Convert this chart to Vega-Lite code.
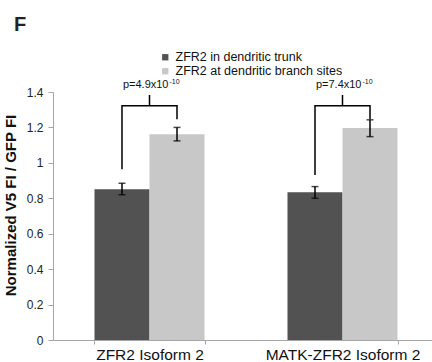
{
  "$schema": "https://vega.github.io/schema/vega-lite/v6.json",
  "autosize": "none",
  "width": 379,
  "height": 248,
  "padding": {"left": 53, "top": 92, "right": 0, "bottom": 22},
  "background": "white",
  "config": {
    "font": "Liberation Sans",
    "view": {"stroke": null},
    "axis": {"grid": false, "domainColor": "#a6a6a6", "tickColor": "#a6a6a6", "labelColor": "#222222", "labelFont": "Liberation Sans"},
    "axisY": {"tickCount": 8, "labelOverlap": false, "labelFontSize": 12, "tickSize": 5, "labelPadding": 5, "format": "~g"}
  },
  "title": {"text": "F", "anchor": "start", "frame": "group", "fontSize": 20, "fontWeight": "bold", "color": "#222222", "dx": -39, "offset": 16},
  "datasets": {
    "bars": [
      {"grp": "ZFR2 Isoform 2", "series": "ZFR2 in dendritic trunk", "v": 0.851, "lo": 0.82, "hi": 0.885},
      {"grp": "ZFR2 Isoform 2", "series": "ZFR2 at dendritic branch sites", "v": 1.161, "lo": 1.124, "hi": 1.2},
      {"grp": "MATK-ZFR2 Isoform 2", "series": "ZFR2 in dendritic trunk", "v": 0.834, "lo": 0.8, "hi": 0.866},
      {"grp": "MATK-ZFR2 Isoform 2", "series": "ZFR2 at dendritic branch sites", "v": 1.197, "lo": 1.148, "hi": 1.243}
    ],
    "bracket": [
      {"grp": "ZFR2 Isoform 2", "series": "ZFR2 in dendritic trunk", "y": 0.964, "ord": 1},
      {"grp": "ZFR2 Isoform 2", "series": "ZFR2 in dendritic trunk", "y": 1.323, "ord": 2},
      {"grp": "ZFR2 Isoform 2", "series": "ZFR2 at dendritic branch sites", "y": 1.323, "ord": 3},
      {"grp": "ZFR2 Isoform 2", "series": "ZFR2 at dendritic branch sites", "y": 1.246, "ord": 4},
      {"grp": "MATK-ZFR2 Isoform 2", "series": "ZFR2 in dendritic trunk", "y": 0.932, "ord": 1},
      {"grp": "MATK-ZFR2 Isoform 2", "series": "ZFR2 in dendritic trunk", "y": 1.323, "ord": 2},
      {"grp": "MATK-ZFR2 Isoform 2", "series": "ZFR2 at dendritic branch sites", "y": 1.323, "ord": 3},
      {"grp": "MATK-ZFR2 Isoform 2", "series": "ZFR2 at dendritic branch sites", "y": 1.246, "ord": 4}
    ],
    "pvals": [
      {"grp": "ZFR2 Isoform 2", "p": "p=4.9x10", "e": "-10", "y0": 1.323, "y1": 1.383, "ty": 1.42},
      {"grp": "MATK-ZFR2 Isoform 2", "p": "p=7.4x10", "e": "-10", "y0": 1.323, "y1": 1.383, "ty": 1.42}
    ]
  },
  "encoding": {
    "x": {
      "field": "grp", "type": "nominal",
      "sort": ["ZFR2 Isoform 2", "MATK-ZFR2 Isoform 2"],
      "scale": {"range": [0, 386], "paddingInner": 0.43, "paddingOuter": 0.215},
      "axis": {"title": null, "labelAngle": 0, "labelFontSize": 15.5, "labelColor": "#111111", "labelPadding": 3, "tickBand": "extent", "tickSize": 4, "domainColor": "#a6a6a6"}
    }
  },
  "layer": [
    {
      "data": {"name": "bars"},
      "mark": {"type": "bar"},
      "encoding": {
        "xOffset": {"field": "series", "type": "nominal", "sort": ["ZFR2 in dendritic trunk", "ZFR2 at dendritic branch sites"], "scale": {"paddingInner": 0, "paddingOuter": 0}},
        "y": {"field": "v", "type": "quantitative",
          "scale": {"domain": [0, 1.4], "nice": false},
          "axis": {"values": [0, 0.2, 0.4, 0.6, 0.8, 1, 1.2, 1.4], "title": "Normalized V5 FI / GFP FI", "titleFontSize": 15, "titleFontWeight": "bold", "titleColor": "#111111", "titlePadding": 8, "titleY": 113}},
        "color": {"field": "series", "type": "nominal",
          "scale": {"domain": ["ZFR2 in dendritic trunk", "ZFR2 at dendritic branch sites"], "range": ["#525252", "#c8c8c8"]},
          "legend": {"title": null, "orient": "none", "legendX": 106, "legendY": -41, "symbolType": "square", "symbolSize": 40, "symbolStrokeWidth": 0, "labelFontSize": 12.5, "labelColor": "#111111", "rowPadding": 1, "labelLimit": 300, "labelOffset": 4}}
      }
    },
    {
      "data": {"name": "bars"},
      "mark": {"type": "rule", "color": "black", "strokeWidth": 1.5},
      "encoding": {
        "xOffset": {"field": "series", "type": "nominal", "sort": ["ZFR2 in dendritic trunk", "ZFR2 at dendritic branch sites"]},
        "y": {"field": "lo", "type": "quantitative"},
        "y2": {"field": "hi"}
      }
    },
    {
      "data": {"name": "bars"},
      "mark": {"type": "tick", "color": "black", "thickness": 1.5, "size": 7, "orient": "horizontal"},
      "encoding": {
        "xOffset": {"field": "series", "type": "nominal", "sort": ["ZFR2 in dendritic trunk", "ZFR2 at dendritic branch sites"]},
        "y": {"field": "lo", "type": "quantitative"}
      }
    },
    {
      "data": {"name": "bars"},
      "mark": {"type": "tick", "color": "black", "thickness": 1.5, "size": 7, "orient": "horizontal"},
      "encoding": {
        "xOffset": {"field": "series", "type": "nominal", "sort": ["ZFR2 in dendritic trunk", "ZFR2 at dendritic branch sites"]},
        "y": {"field": "hi", "type": "quantitative"}
      }
    },
    {
      "data": {"name": "bracket"},
      "mark": {"type": "line", "color": "black", "strokeWidth": 1.5, "interpolate": "linear"},
      "encoding": {
        "xOffset": {"field": "series", "type": "nominal", "sort": ["ZFR2 in dendritic trunk", "ZFR2 at dendritic branch sites"]},
        "y": {"field": "y", "type": "quantitative"},
        "detail": {"field": "grp"},
        "order": {"field": "ord", "type": "quantitative"}
      }
    },
    {
      "data": {"name": "pvals"},
      "mark": {"type": "rule", "color": "black", "strokeWidth": 1.5},
      "encoding": {
        "y": {"field": "y0", "type": "quantitative"},
        "y2": {"field": "y1"}
      }
    },
    {
      "data": {"name": "pvals"},
      "mark": {"type": "text", "align": "right", "baseline": "alphabetic", "fontSize": 11, "dx": 19, "color": "#111111"},
      "encoding": {
        "y": {"field": "ty", "type": "quantitative"},
        "text": {"field": "p"}
      }
    },
    {
      "data": {"name": "pvals"},
      "mark": {"type": "text", "align": "left", "baseline": "alphabetic", "fontSize": 7, "dx": 20, "dy": -4, "color": "#111111"},
      "encoding": {
        "y": {"field": "ty", "type": "quantitative"},
        "text": {"field": "e"}
      }
    }
  ]
}
